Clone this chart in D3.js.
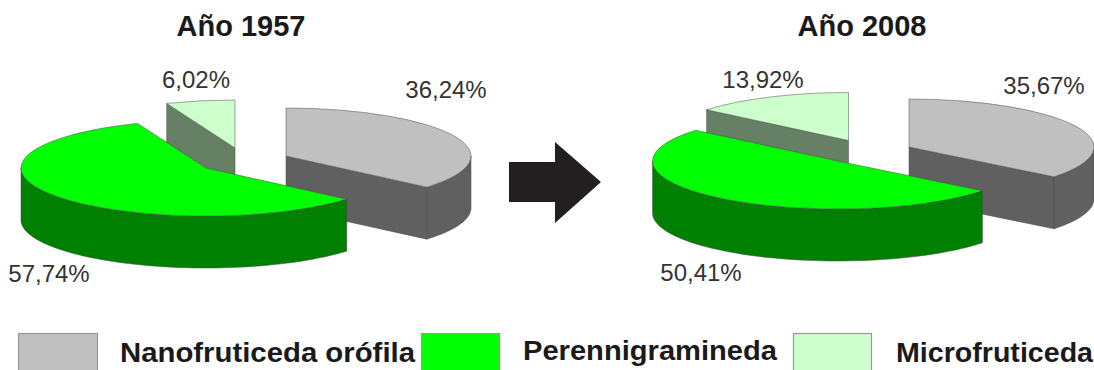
<!DOCTYPE html>
<html>
<head>
<meta charset="utf-8">
<script src="https://cdn.jsdelivr.net/npm/d3@7/dist/d3.min.js"></script>
<style>
html,body{margin:0;padding:0;background:#fff;overflow:hidden}
svg{display:block}
text{font-family:"Liberation Sans",Arial,sans-serif}
</style>
</head>
<body>
<svg id="chart" width="1094" height="370"></svg>
<script>
// Shares of each vegetation unit, in percent
const categories = ["Nanofruticeda orófila", "Perennigramineda", "Microfruticeda"];
const values1957 = [36.24, 57.74, 6.02];
const values2008 = [35.67, 50.41, 13.92];
const labels1957 = ["36,24%", "57,74%", "6,02%"];
const labels2008 = ["35,67%", "50,41%", "13,92%"];

const topColors = ["#c0c0c0", "#00ff00", "#ccffcc"];
const sideColors = ["#606060", "#008000", "#668066"];

// Tilted-pie geometry
const rx = 185, ry = 48, depth = 52;
const drawOrder = [2, 0, 1];

const pies = [
  { title: "Año 1957", titleX: 241, values: values1957, labels: labels1957,
    centers: [[286, 156], [206, 168], [235, 148]],
    labelPos: [[446, 98], [49, 282], [196, 88]] },
  { title: "Año 2008", titleX: 862, values: values2008, labels: labels2008,
    centers: [[909, 147], [837.5, 161], [848.5, 140.5]],
    labelPos: [[1044, 94], [701, 281], [763, 88]] }
];

const svg = d3.select("#chart");
const pieLayout = d3.pie().sort(null).value(d => d).startAngle(0).endAngle(2 * Math.PI);
const outline = "#4a4a4a";
const outlineWidth = 0.5;

pies.forEach(p => {
  const arcs = pieLayout(p.values);
  const g = svg.append("g");

  drawOrder.forEach(i => {
    const a = arcs[i], [cx, cy] = p.centers[i];
    const px = t => cx + rx * Math.sin(t);
    const py = t => cy - ry * Math.cos(t);
    const line = d3.line();

    // Flat cut faces that turn towards the viewer
    const face = t => {
      const pts = [[cx, cy], [px(t), py(t)], [px(t), py(t) + depth], [cx, cy + depth]];
      g.append("path").attr("d", line(pts) + "Z")
        .attr("fill", sideColors[i]).attr("stroke", outline).attr("stroke-width", outlineWidth);
    };
    if (a.startAngle > Math.PI && a.startAngle < 2 * Math.PI) face(a.startAngle);
    if (a.endAngle > 0 && a.endAngle < Math.PI) face(a.endAngle);

    // Outer rim, only the part on the near half of the ellipse
    const from = Math.max(a.startAngle, Math.PI / 2);
    const to = Math.min(a.endAngle, 3 * Math.PI / 2);
    if (to > from) {
      const steps = d3.range(0, 61).map(k => from + (to - from) * k / 60);
      const upper = steps.map(t => [px(t), py(t)]);
      const lower = steps.slice().reverse().map(t => [px(t), py(t) + depth]);
      g.append("path").attr("d", line(upper.concat(lower)) + "Z")
        .attr("fill", sideColors[i]).attr("stroke", outline).attr("stroke-width", outlineWidth);
    }

    // Top surface: a circular arc squashed into the tilted ellipse
    const arc = d3.arc().innerRadius(0).outerRadius(rx);
    g.append("path")
      .attr("d", arc(a))
      .attr("transform", `translate(${cx},${cy}) scale(1,${ry / rx})`)
      .attr("fill", topColors[i])
      .attr("stroke", outline).attr("stroke-width", outlineWidth)
      .attr("vector-effect", "non-scaling-stroke");
  });

  g.selectAll("text.pct").data(p.labels).join("text")
    .attr("class", "pct")
    .attr("x", (d, i) => p.labelPos[i][0])
    .attr("y", (d, i) => p.labelPos[i][1])
    .attr("text-anchor", "middle")
    .attr("font-size", 24).attr("fill", "#333")
    .text(d => d);

  svg.append("text").attr("x", p.titleX).attr("y", 36)
    .attr("text-anchor", "middle").attr("font-size", 29).attr("font-weight", "bold")
    .attr("fill", "#1a1a1a").text(p.title);
});

// Arrow between the two years
svg.append("path")
  .attr("d", d3.line()([[509, 162], [555, 162], [555, 142], [601, 182], [555, 223], [555, 202], [509, 202]]) + "Z")
  .attr("fill", "#231f20");

// Legend
const legend = [
  { x: 18.5, w: 79, tx: 120, tw: 295, ty: 362 },
  { x: 421.5, w: 78, tx: 523, tw: 254, ty: 360 },
  { x: 793.5, w: 78, tx: 896, tw: 197, ty: 362 }
];
categories.forEach((c, i) => {
  const l = legend[i];
  svg.append("rect").attr("x", l.x).attr("y", 333.5).attr("width", l.w).attr("height", 40)
    .attr("fill", topColors[i]).attr("stroke", "#999").attr("stroke-width", 1.2);
  svg.append("text").attr("x", l.tx).attr("y", l.ty)
    .attr("font-size", 27.5).attr("font-weight", "bold").attr("fill", "#1a1a1a")
    .attr("textLength", l.tw).attr("lengthAdjust", "spacingAndGlyphs").text(c);
});
</script>
</body>
</html>
